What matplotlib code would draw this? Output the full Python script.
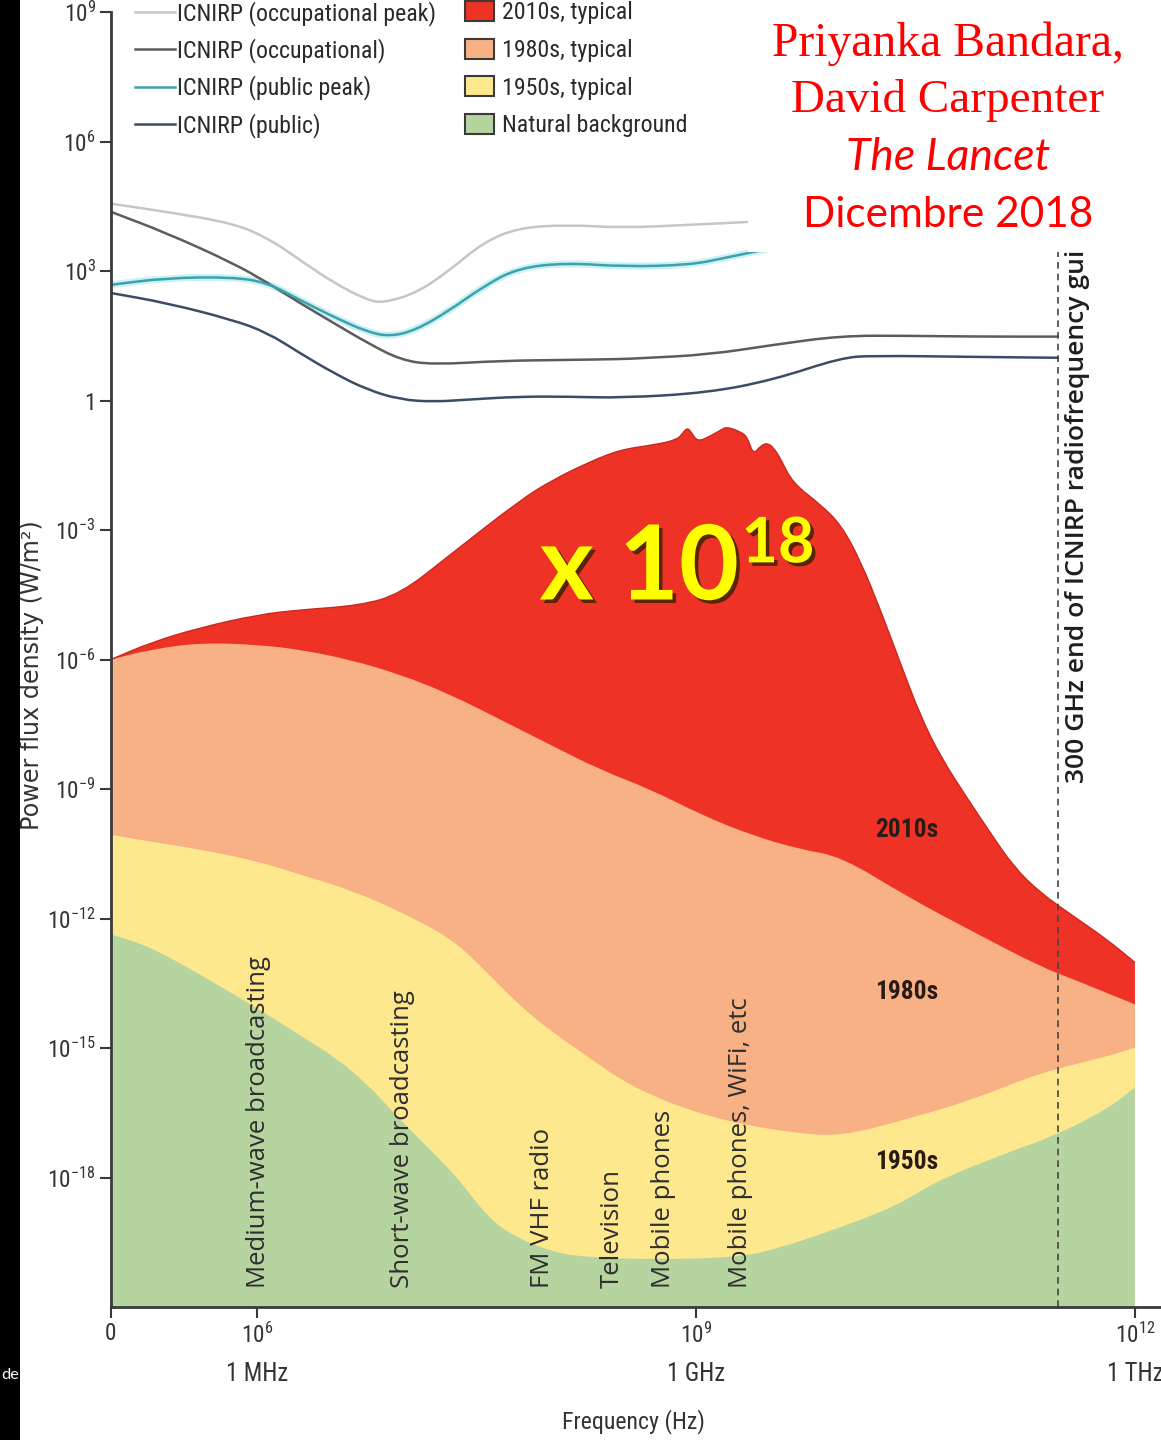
import matplotlib
matplotlib.use('Agg')
import matplotlib.pyplot as plt
from matplotlib import font_manager, patheffects
from matplotlib.lines import Line2D
from matplotlib.patches import Patch, Rectangle, PathPatch
from matplotlib.path import Path
from matplotlib.ticker import FixedLocator, NullLocator
from matplotlib.transforms import blended_transform_factory
import numpy as np

# all values are log10 exponents: frequency in Hz, power flux density in W/m^2
bg_f = [5.00, 5.27, 5.75, 6.20, 6.66, 7.02, 7.34, 7.57, 7.75, 8.02, 8.26, 8.71, 9.30,
        9.58, 9.85, 10.26, 10.44, 10.67, 11.13, 11.44, 11.81, 12.00]
bg_p = [-12.37, -12.65, -13.57, -14.50, -15.50, -16.82, -17.88, -18.90, -19.36, -19.73,
        -19.85, -19.90, -19.85, -19.62, -19.32, -18.81, -18.51, -18.04, -17.42, -17.05,
        -16.42, -15.91]

y1950_f = [5.00, 5.27, 5.61, 6.01, 6.29, 6.63, 6.98, 7.34, 7.57, 7.80, 8.02, 8.26, 8.48,
           8.71, 8.94, 9.17, 9.33, 9.65, 9.99, 10.44, 10.90, 11.35, 11.81, 12.00]
y1950_p = [-10.06, -10.22, -10.40, -10.68, -10.98, -11.33, -11.84, -12.49, -13.25, -14.04,
           -14.64, -15.20, -15.73, -16.12, -16.42, -16.65, -16.77, -16.96, -17.05, -16.65,
           -16.19, -15.57, -15.20, -14.99]

y1980_f = [5.00, 5.27, 5.61, 6.01, 6.29, 6.63, 6.98, 7.32, 7.66, 8.00, 8.34, 8.69, 9.03,
           9.37, 9.71, 9.99, 10.44, 10.90, 11.35, 11.58, 12.00]
y1980_p = [-6.00, -5.77, -5.61, -5.66, -5.77, -6.00, -6.35, -6.81, -7.39, -7.97, -8.55,
           -9.01, -9.59, -10.06, -10.40, -10.56, -11.49, -12.32, -13.11, -13.41, -13.99]

y2010_f = [5.00, 5.27, 5.61, 6.01, 6.29, 6.70, 6.98, 7.32, 7.80, 8.02, 8.26, 8.48, 8.71,
           8.87, 8.91, 8.94, 8.97, 9.01, 9.10, 9.17, 9.21, 9.30, 9.35, 9.39, 9.44, 9.49,
           9.54, 9.58, 9.66, 9.85, 9.99, 10.12, 10.26, 10.40, 10.53, 10.67, 10.86, 11.01,
           11.17, 11.35, 11.58, 11.81, 12.00]
y2010_p = [-6.00, -5.61, -5.26, -4.96, -4.85, -4.75, -4.48, -3.57, -2.30, -1.84, -1.44,
           -1.14, -1.03, -0.91, -0.75, -0.63, -0.75, -0.96, -0.82, -0.68, -0.61, -0.72,
           -0.84, -1.26, -1.05, -0.98, -1.14, -1.37, -1.91, -2.41, -2.88, -3.69, -4.85,
           -6.12, -7.28, -8.25, -9.25, -10.01, -10.80, -11.40, -11.95, -12.49, -13.02]

occpk_f = [5.00, 5.38, 5.83, 6.07, 6.29, 6.52, 6.75, 6.86, 7.09, 7.32, 7.54, 7.78, 8.12,
           8.50, 8.96, 9.50]
occpk_p = [4.56, 4.37, 4.11, 3.77, 3.26, 2.73, 2.33, 2.26, 2.49, 3.03, 3.65, 4.00, 4.07,
           4.00, 4.07, 4.16]

occ_f = [5.00, 5.38, 5.83, 6.07, 6.29, 6.52, 6.75, 6.98, 7.20, 7.66, 8.12, 8.50, 8.62,
         9.08, 9.53, 9.99, 10.44, 10.90, 11.48]
occ_p = [4.37, 3.88, 3.19, 2.73, 2.26, 1.80, 1.34, 0.94, 0.83, 0.92, 0.94, 0.96, 0.98,
         1.06, 1.29, 1.50, 1.50, 1.48, 1.48]

pubpk_f = [5.00, 5.38, 5.83, 6.07, 6.29, 6.52, 6.75, 6.91, 7.09, 7.32, 7.54, 7.78, 8.12,
           8.50, 8.96, 9.19, 9.39, 9.55]
pubpk_p = [2.68, 2.84, 2.86, 2.73, 2.33, 1.94, 1.59, 1.48, 1.64, 2.10, 2.63, 3.07, 3.19,
           3.10, 3.14, 3.30, 3.44, 3.55]

pub_f = [5.00, 5.38, 5.83, 6.07, 6.29, 6.52, 6.75, 6.98, 7.20, 7.44, 7.78, 8.12, 8.50,
         9.08, 9.53, 9.99, 10.21, 10.90, 11.48]
pub_p = [2.49, 2.26, 1.87, 1.57, 1.10, 0.64, 0.25, 0.02, -0.03, 0.02, 0.09, 0.09, 0.06,
         0.18, 0.48, 0.99, 1.04, 1.01, 0.99]

limit_names = ['ICNIRP (occupational peak)', 'ICNIRP (occupational)',
               'ICNIRP (public peak)', 'ICNIRP (public)']
limit_colors = ['#c6c6c6', '#5c5c5c', '#3ea2ac', '#3b4d66']
band_names = ['2010s, typical', '1980s, typical', '1950s, typical', 'Natural background']
band_colors = ['#ee3326', '#f8b185', '#fde88e', '#b6d4a0']
band_labels = ['2010s', '1980s', '1950s']
band_label_f = 10.44
band_label_p = [-9.94, -13.71, -17.65]

app_labels = ['Medium-wave broadcasting', 'Short-wave broadcasting', 'FM VHF radio',
              'Television', 'Mobile phones', 'Mobile phones, WiFi, etc']
app_f = [6.01, 6.99, 7.95, 8.43, 8.78, 9.30]

guideline_end_f = np.log10(3e11)
ytick_exp = [9, 6, 3, 0, -3, -6, -9, -12, -15, -18]
xtick_exp = [5, 6, 9, 12]
xtick_units = ['', '1 MHz', '1 GHz', '1 THz']

ttf = font_manager.fontManager.ttflist
installed = {f.name for f in ttf}


def pick(*names):
    for n in names:
        if n in installed:
            return n
    return 'DejaVu Sans'


def narrow_font():
    for n in ['Liberation Sans Narrow', 'Roboto Condensed', 'Open Sans Condensed',
              'Noto Sans Condensed', 'DejaVu Sans Condensed']:
        if n in installed:
            return n, 'normal'
    for fam in ['DejaVu Sans', 'Noto Sans', 'Open Sans', 'Roboto']:
        for f in ttf:
            if f.name == fam and f.stretch in ('condensed', 'semi-condensed', 'extra-condensed'):
                return fam, f.stretch
    return pick('Roboto', 'Liberation Sans'), 'normal'


NARROW, STRETCH = narrow_font()
HUMAN = pick('Open Sans', 'Noto Sans', 'DejaVu Sans')
CAL = pick('Lato', 'Open Sans', 'DejaVu Sans')
SERIF = pick('Liberation Serif', 'DejaVu Serif')

plt.rcParams['font.family'] = NARROW
plt.rcParams['font.stretch'] = STRETCH
plt.rcParams['mathtext.fontset'] = 'custom'
plt.rcParams['mathtext.rm'] = NARROW + ':stretch=' + STRETCH
plt.rcParams['mathtext.it'] = NARROW + ':stretch=' + STRETCH

W, H = 1161, 1440
fig = plt.figure(figsize=(W / 100, H / 100), dpi=100)
renderer = fig.canvas.get_renderer()


def fit(s, target_px, base=20, **kw):
    # font size that makes the string about as wide as in the reference
    t = fig.text(0, 0, s, fontsize=base, **kw)
    w = t.get_window_extent(renderer).width
    t.remove()
    return base * target_px / w


ax = fig.add_axes([111 / W, 133 / H, 1050 / W, 1295 / H])
ax.set_xscale('log')
ax.set_yscale('log')
ax.set_xlim(1e5, 10 ** 12.178)
ax.set_ylim(1e-21, 1e9)

FLOOR = -21.0


def smooth_path(fe, pe, close=False):
    # quadratic bezier through the midpoints, drawn in log-log space
    fe = np.asarray(fe, float)
    pe = np.asarray(pe, float)
    mf = (fe[:-1] + fe[1:]) / 2
    mp = (pe[:-1] + pe[1:]) / 2
    verts = [(fe[0], pe[0]), (mf[0], mp[0])]
    codes = [Path.MOVETO, Path.LINETO]
    for i in range(1, len(fe) - 1):
        verts += [(fe[i], pe[i]), (mf[i], mp[i])]
        codes += [Path.CURVE3, Path.CURVE3]
    verts.append((fe[-1], pe[-1]))
    codes.append(Path.LINETO)
    if close:
        verts += [(fe[-1], FLOOR), (fe[0], FLOOR), (fe[0], FLOOR)]
        codes += [Path.LINETO, Path.LINETO, Path.CLOSEPOLY]
    return Path(10.0 ** np.array(verts), codes)


for f, p, c in [(y2010_f, y2010_p, band_colors[0]), (y1980_f, y1980_p, band_colors[1]),
                (y1950_f, y1950_p, band_colors[2]), (bg_f, bg_p, band_colors[3])]:
    ax.add_patch(PathPatch(smooth_path(f, p, close=True), facecolor=c, lw=0, zorder=1))
ax.add_patch(PathPatch(smooth_path(y2010_f, y2010_p), fill=False, edgecolor='#c8281e',
                       lw=1.0, zorder=1.5))

# soft cyan glow under the public peak line, as in the printed figure
ax.add_patch(PathPatch(smooth_path(pubpk_f, pubpk_p), fill=False, edgecolor='#c9f1f6',
                       lw=5, zorder=1.8))
for f, p, c in zip([occpk_f, occ_f, pubpk_f, pub_f], [occpk_p, occ_p, pubpk_p, pub_p], limit_colors):
    ax.add_patch(PathPatch(smooth_path(f, p), fill=False, edgecolor=c, lw=1.8, zorder=2))

ax.axvline(10 ** guideline_end_f, color='#444444', lw=1.2, dashes=(4, 3), zorder=2)

# spines and ticks
for s in ['top', 'right']:
    ax.spines[s].set_visible(False)
for s in ['left', 'bottom']:
    ax.spines[s].set_color('#3a3a3a')
    ax.spines[s].set_linewidth(2)

tick_fs = fit('1 MHz', 62)
ax.yaxis.set_major_locator(FixedLocator([10.0 ** e for e in ytick_exp]))
ax.yaxis.set_minor_locator(NullLocator())
ax.set_yticklabels(['1' if e == 0 else r'$\mathregular{10^{%d}}$' % e for e in ytick_exp])
ax.xaxis.set_major_locator(FixedLocator([10.0 ** e for e in xtick_exp]))
ax.xaxis.set_minor_locator(NullLocator())
ax.set_xticklabels(['0' if e == 5 else r'$\mathregular{10^{%d}}$' % e for e in xtick_exp])
ax.tick_params(axis='both', direction='out', length=8, width=1.5, color='#3a3a3a',
               labelcolor='#333333', labelsize=tick_fs * 0.95, pad=3)

xt = blended_transform_factory(ax.transData, ax.transAxes)
for e, u in zip(xtick_exp, xtick_units):
    if u:
        ax.text(10.0 ** e, -0.052, u, transform=xt, ha='center', va='center',
                fontsize=tick_fs, color='#333333')
fig.text(633 / W, 1 - 1422 / H, 'Frequency (Hz)', ha='center', va='center',
         fontsize=fit('Frequency (Hz)', 143), color='#333333')
fig.text(32 / W, 1 - 675 / H, 'Power flux density (W/m²)', rotation=90, ha='center',
         va='center', family='DejaVu Sans', stretch='normal',
         fontsize=fit('Power flux density (W/m²)', 310, family='DejaVu Sans', stretch='normal'),
         color='#333333')

# legends
leg_fs = fit('ICNIRP (occupational peak)', 259)
leg_px = leg_fs * 100 / 72
line_handles = [Line2D([], [], color=c, lw=1.8) for c in limit_colors]
leg1 = ax.legend(line_handles, limit_names, loc='upper left',
                 bbox_to_anchor=(135 / W, 1 - 1 / H),
                 bbox_transform=fig.transFigure, frameon=False, fontsize=leg_fs,
                 handlelength=40 / leg_px, handletextpad=0.1,
                 labelspacing=max(0.1, (41 - 1.2 * leg_px) / leg_px),
                 borderpad=0, borderaxespad=0)
for t in leg1.get_texts():
    t.set_color('#2a2a2a')
ax.add_artist(leg1)
patch_handles = [Patch(facecolor=c, edgecolor='#3a3a3a', lw=1.5) for c in band_colors]
leg2 = ax.legend(patch_handles, band_names, loc='upper left',
                 bbox_to_anchor=(465 / W, 1 - 1 / H),
                 bbox_transform=fig.transFigure, frameon=False, fontsize=leg_fs,
                 handlelength=29 / leg_px, handleheight=22 / leg_px, handletextpad=8 / leg_px,
                 labelspacing=max(0.1, (43 - 1.2 * leg_px) / leg_px),
                 borderpad=0, borderaxespad=0)
for t in leg2.get_texts():
    t.set_color('#2a2a2a')

# band labels
band_fs = fit('2010s', 63, weight='bold')
for lab, p in zip(band_labels, band_label_p):
    ax.text(10 ** band_label_f, 10 ** p, lab, ha='center', va='center', fontsize=band_fs,
            fontweight='bold', color='#2a1a14', zorder=3)

# application labels
app_fs = fit('Medium-wave broadcasting', 331, family=HUMAN, stretch='normal')
for lab, f in zip(app_labels, app_f):
    ax.text(10 ** f, 0.0147, lab, transform=xt, rotation=90, ha='center', va='bottom',
            family=HUMAN, stretch='normal', fontsize=app_fs, color='#2e2e2e', zorder=3)

gfs = fit('300 GHz end of ICNIRP radiofrequency gui', 533, family=HUMAN, stretch='normal',
          weight='semibold')
ax.text(10 ** 11.61, 0.405, '300 GHz end of ICNIRP radiofrequency guidelines', transform=xt,
        rotation=90, ha='center', va='bottom', family=HUMAN, stretch='normal',
        fontweight='semibold', fontsize=gfs, color='#1e1e1e', zorder=3)

shadow = [patheffects.withSimplePatchShadow(offset=(2.5, -2.5), shadow_rgbFace='#4a2200', alpha=0.9)]
ax.text(10 ** 7.93, 10 ** -4.61, 'x 10', ha='left', va='baseline', family=CAL, stretch='normal',
        fontweight='bold', fontsize=fit('x 10', 200, family=CAL, stretch='normal', weight='bold'),
        color='#ffff00', path_effects=shadow, zorder=4)
ax.text(10 ** 9.31, 10 ** -3.75, '18', ha='left', va='baseline', family=CAL, stretch='normal',
        fontweight='bold', fontsize=fit('18', 73, family=CAL, stretch='normal', weight='bold'),
        color='#ffff00', path_effects=shadow, zorder=4)

# white box with the citation
fig.add_artist(Rectangle((748 / W, 1 - 252 / H), (W - 748) / W, 252 / H,
                         transform=fig.transFigure, facecolor='white', edgecolor='none', zorder=5))
cite = [('Priyanka Bandara,', 56, SERIF, 'normal', 353),
        ('David Carpenter', 112, SERIF, 'normal', 313),
        ('The Lancet', 170, CAL, 'italic', 204),
        ('Dicembre 2018', 227, CAL, 'normal', 291)]
for s, yb, fam, sty, wpx in cite:
    fig.text(948 / W, 1 - yb / H, s, ha='center', va='baseline', family=fam, style=sty,
             stretch='normal', fontsize=fit(s, wpx, family=fam, style=sty, stretch='normal'),
             color='#ff0000', zorder=6)

# black strip on the left edge
fig.add_artist(Rectangle((0, 0), 20 / W, 1, transform=fig.transFigure, facecolor='black',
                         edgecolor='none', zorder=5))
fig.text(1 / W, 1 - 1375 / H, 'de', ha='left', va='center', family=CAL, stretch='normal',
         fontsize=fit('de', 18, family=CAL, stretch='normal'), color='white', zorder=6)

fig.savefig('out.png', dpi=100, facecolor='white')
